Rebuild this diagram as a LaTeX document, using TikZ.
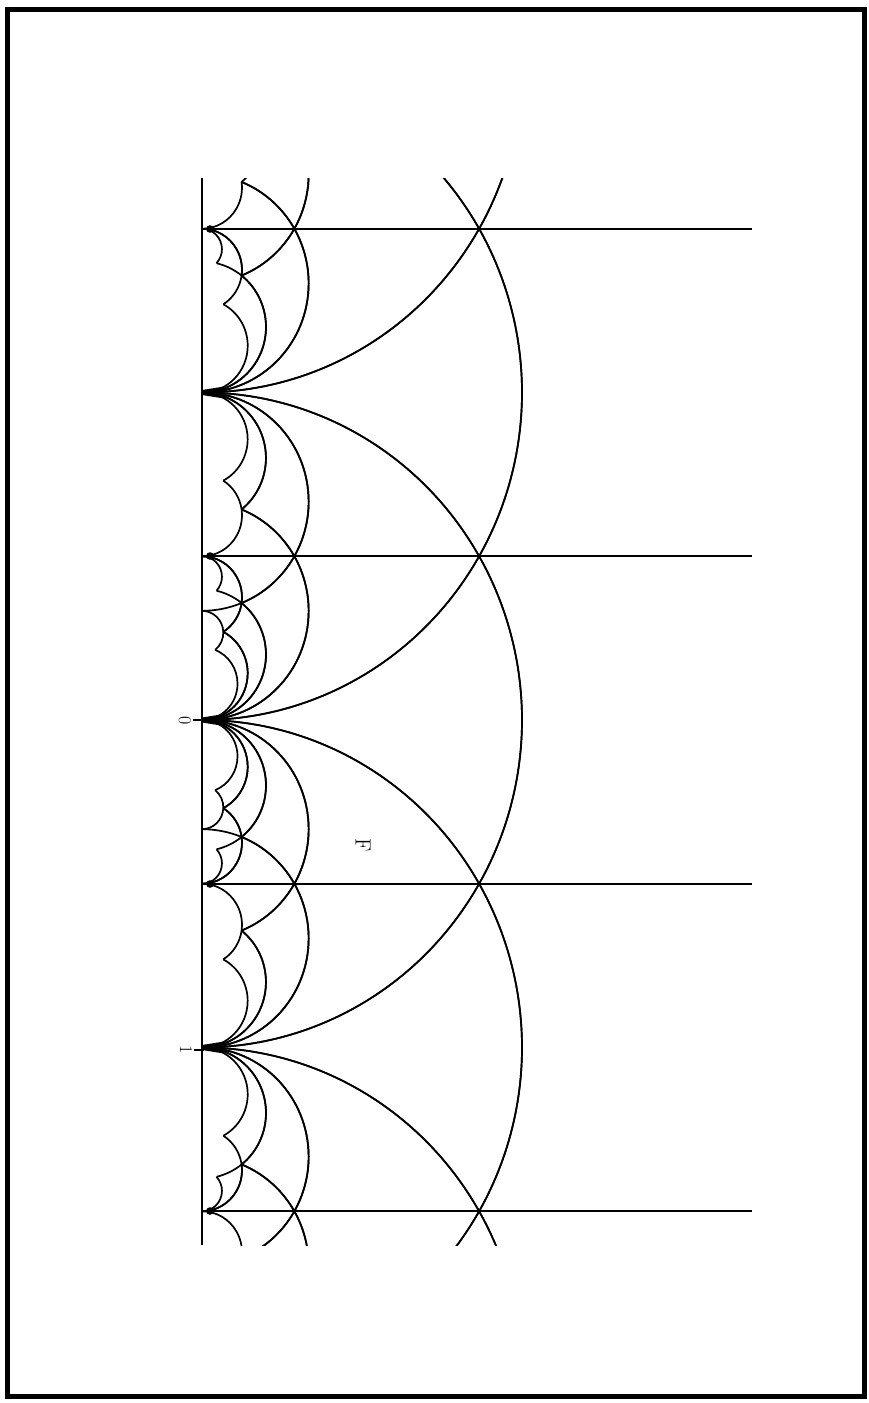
\documentclass[tikz,border=0pt]{standalone}
\newcommand\geoseg[4]{% geodesic segment from (t1,h1) to (t2,h2)
  \pgfmathsetmacro\gsA{#1}\pgfmathsetmacro\gsB{#2}%
  \pgfmathsetmacro\gsC{#3}\pgfmathsetmacro\gsD{#4}%
  \pgfmathtruncatemacro\gsV{abs(\gsA-\gsC)<0.0005}%
  \ifnum\gsV=1
    \draw[edge] ({202+320*\gsB},{720+327.5*\gsA}) -- ({202+320*\gsD},{720+327.5*\gsC});
  \else
    \pgfmathsetmacro\gsM{(\gsA*\gsA+\gsB*\gsB-\gsC*\gsC-\gsD*\gsD)/(2*(\gsA-\gsC))}%
    \pgfmathsetmacro\gsR{sqrt((\gsA-\gsM)*(\gsA-\gsM)+\gsB*\gsB)}%
    \pgfmathsetmacro\gsS{acos(max(-1,min(1,(\gsA-\gsM)/\gsR)))}%
    \pgfmathsetmacro\gsE{acos(max(-1,min(1,(\gsC-\gsM)/\gsR)))}%
    \draw[edge] ({202+320*\gsB},{720+327.5*\gsA}) arc[start angle={90-\gsS}, end angle={90-\gsE}, x radius={320*\gsR}, y radius={327.5*\gsR}];
  \fi}
\newcommand\domain[4]{% domain with cusp #1/#2 next to Farey edge (#1/#2, #3/#4)
  \pgfmathsetmacro\dmD{(#2)*(#2)+(#2)*(#4)+(#4)*(#4)}%
  \pgfmathsetmacro\dmta{((#1)*(#2)+(#3)*(#4)+((#1)*(#4)+(#3)*(#2))/2)/\dmD}%
  \pgfmathsetmacro\dmha{0.8660254/\dmD}%
  \pgfmathsetmacro\dmE{(#2)*(#2)+(#2)*((#4)-(#2))+((#4)-(#2))*((#4)-(#2))}%
  \pgfmathsetmacro\dmtb{((#1)*(#2)+((#3)-(#1))*((#4)-(#2))+((#1)*((#4)-(#2))+((#3)-(#1))*(#2))/2)/\dmE}%
  \pgfmathsetmacro\dmhb{0.8660254/\dmE}%
  \ifnum#2=0
    \draw[edge] ({202+320*\dmha},{720+327.5*\dmta}) -- (752,{720+327.5*\dmta});
    \draw[edge] ({202+320*\dmhb},{720+327.5*\dmtb}) -- (752,{720+327.5*\dmtb});
  \else
    \pgfmathsetmacro\dmv{(#1)/(#2)}%
    \geoseg{\dmv}{0}{\dmta}{\dmha}%
    \geoseg{\dmv}{0}{\dmtb}{\dmhb}%
  \fi
  \geoseg{\dmta}{\dmha}{\dmtb}{\dmhb}}
\begin{document}
\begin{tikzpicture}[x=1pt,y=-1pt,
  edge/.style={line width=1.7pt,black},
  axisline/.style={line width=2.8pt,black},
  frame/.style={line width=5pt,black},
  cuspdot/.style={fill=black},
  lbl/.style={rotate=-90,inner sep=0pt,font=\fontsize{18}{18}\selectfont}]
\useasboundingbox (0,0) rectangle (869,1403);
\draw[frame] (7,9) rectangle (864,1396);
% labels and ticks
\node[lbl] (lab0) at (185,721) {0};
\node[lbl] (lab1) at (186,1050) {1};
\node[lbl,font=\fontsize{22}{22}\selectfont] (labF) at (363,845) {F};
\coordinate (t0a) at (193,720); \coordinate (t0b) at (204,720);
\coordinate (t1a) at (194,1050); \coordinate (t1b) at (204,1050);
\draw[edge] (t0a) -- (t0b);
\draw[edge] (t1a) -- (t1b);
% real axis
\coordinate (axtop) at (202,178); \coordinate (axbot) at (202,1245);
\draw[axisline] (axtop) -- (axbot);
\begin{scope}
\clip (202,178) rectangle (760,1245);
% fundamental domains (cusp a/c, Farey edge to b/d)
\foreach \a/\c/\b/\d in {
  1/0/0/1, 1/0/1/1, 1/0/-1/1, 1/0/2/1, 1/0/-2/1, 1/0/3/1, 1/0/-3/1,
  1/0/4/1, 1/0/-4/1, 1/0/5/1, 1/0/-5/1,
  0/1/1/0, 0/1/1/1, 0/1/-1/1, 0/1/1/2, 0/1/-1/2, 0/1/1/3, 0/1/-1/3,
  0/1/1/4, 0/1/-1/4,
  1/1/1/0, -1/1/1/0, 1/1/2/1, -1/1/-2/1, 1/1/0/1, -1/1/0/1,
  1/1/3/2, -1/1/-3/2, 1/1/1/2, -1/1/-1/2, 1/1/4/3, -1/1/-4/3,
  1/1/2/3, -1/1/-2/3,
  2/1/1/0, -2/1/1/0, 2/1/3/1, -2/1/-3/1, 2/1/1/1, -2/1/-1/1,
  2/1/5/2, -2/1/-5/2, 2/1/3/2, -2/1/-3/2,
  3/1/1/0, -3/1/1/0, 4/1/1/0, -4/1/1/0, 3/1/4/1, -3/1/-4/1, 3/1/2/1, -3/1/-2/1,
  1/2/0/1, -1/2/0/1, 1/2/1/1, -1/2/-1/1, 1/2/1/3, -1/2/-1/3,
  3/2/1/1, -3/2/-1/1, 3/2/2/1, -3/2/-2/1, 3/2/4/3, -3/2/-4/3,
  1/3/0/1, -1/3/0/1}{
  \domain{\a}{\c}{\b}{\d}
}
% dark spots where many edges meet at the cusps
\foreach \yy in {392.5,720,1047.5}{
  \fill (202,\yy-2.5) -- (224,\yy-6) -- (224,\yy+6) -- (202,\yy+2.5) -- cycle;
}
\foreach \yy in {229,556,884,1211}{
  \fill[cuspdot] (210,\yy) circle (3.8);
}
\end{scope}
\end{tikzpicture}
\end{document}
